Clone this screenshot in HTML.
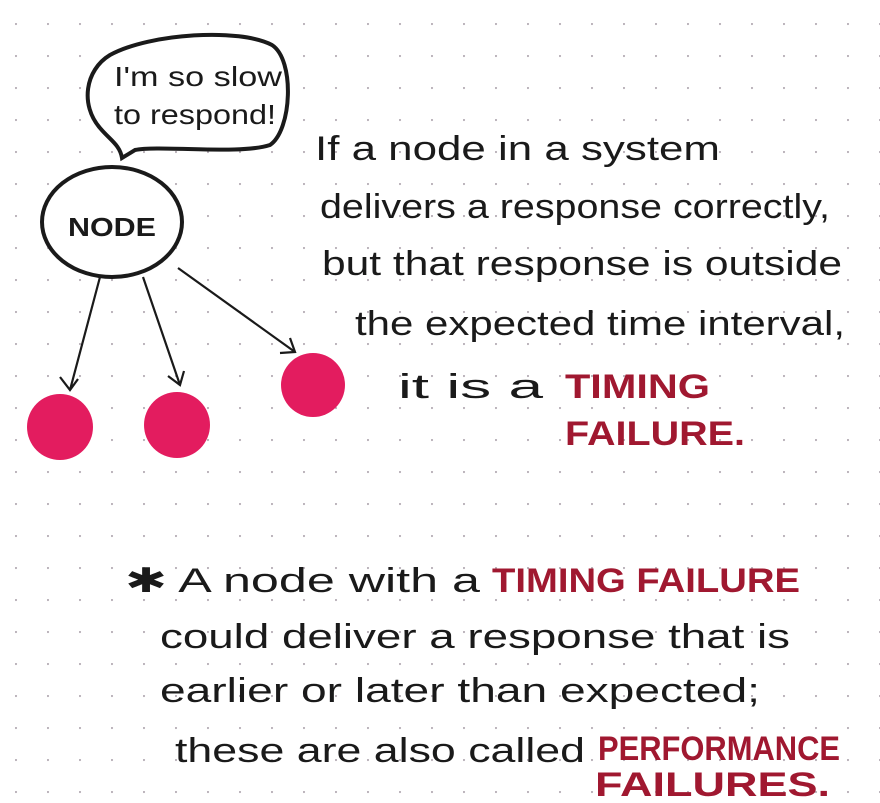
<!DOCTYPE html>
<html><head><meta charset="utf-8"><style>
html,body{margin:0;padding:0;background:#fff;}
svg{display:block}
text{font-family:"Liberation Sans",sans-serif;fill:#1a1a1a;}
.r{fill:#a01830;font-weight:bold;}
</style></head><body>
<svg width="880" height="803" viewBox="0 0 880 803" xmlns="http://www.w3.org/2000/svg">
<defs>
<pattern id="d" x="15" y="23" width="32" height="32" patternUnits="userSpaceOnUse">
<circle cx="1" cy="1" r="1.1" fill="#b8b0b8"/>
</pattern>
</defs>
<rect width="880" height="803" fill="url(#d)"/>
<path d="M122,158 C120,145 110,140 100,128 C80,105 85,70 110,55 C150,33 240,28 272,45 C295,60 292,130 270,145 C240,155 160,145 135,150 Z" fill="#fff" stroke="#1a1a1a" stroke-width="4"/>
<text x="114" y="86" font-size="28" textLength="168" lengthAdjust="spacingAndGlyphs">I'm so slow</text>
<text x="114" y="124" font-size="28" textLength="162" lengthAdjust="spacingAndGlyphs">to respond!</text>
<ellipse cx="112" cy="222" rx="70" ry="55" fill="#fff" stroke="#1a1a1a" stroke-width="4"/>
<text x="68" y="236" font-size="26" font-weight="bold" textLength="88" lengthAdjust="spacingAndGlyphs">NODE</text>
<g stroke="#1a1a1a" stroke-width="2.2" fill="none">
<path d="M100,277 L70,390 M60,377 L70,390 L78,379"/>
<path d="M143,277 L180,385 M168,376 L180,385 L184,371"/>
<path d="M178,268 L295,352 M280,353 L295,352 L290,338"/>
</g>
<circle cx="60" cy="427" r="33" fill="#e31c5f"/>
<circle cx="177" cy="425" r="33" fill="#e31c5f"/>
<circle cx="313" cy="385" r="32" fill="#e31c5f"/>
<g font-size="34">
<text x="315" y="160" textLength="405" lengthAdjust="spacingAndGlyphs">If a node in a system</text>
<text x="320" y="218" textLength="510" lengthAdjust="spacingAndGlyphs">delivers a response correctly,</text>
<text x="322" y="275" textLength="520" lengthAdjust="spacingAndGlyphs">but that response is outside</text>
<text x="355" y="335" textLength="490" lengthAdjust="spacingAndGlyphs">the expected time interval,</text>
<text x="398" y="398" textLength="145" lengthAdjust="spacingAndGlyphs">it is a</text>
<text x="565" y="398" class="r" textLength="145" lengthAdjust="spacingAndGlyphs">TIMING</text>
<text x="565" y="445" class="r" textLength="180" lengthAdjust="spacingAndGlyphs">FAILURE.</text>
<text x="125" y="592" textLength="355" lengthAdjust="spacingAndGlyphs">✱ A node with a</text>
<text x="492" y="592" class="r" textLength="308" lengthAdjust="spacingAndGlyphs">TIMING FAILURE</text>
<text x="160" y="648" textLength="630" lengthAdjust="spacingAndGlyphs">could deliver a response that is</text>
<text x="160" y="702" textLength="600" lengthAdjust="spacingAndGlyphs">earlier or later than expected;</text>
<text x="175" y="762" textLength="410" lengthAdjust="spacingAndGlyphs">these are also called</text>
<text x="598" y="760" class="r" textLength="242" lengthAdjust="spacingAndGlyphs">PERFORMANCE</text>
<text x="595" y="796" class="r" textLength="235" lengthAdjust="spacingAndGlyphs">FAILURES.</text>
</g>
</svg>
</body></html>
